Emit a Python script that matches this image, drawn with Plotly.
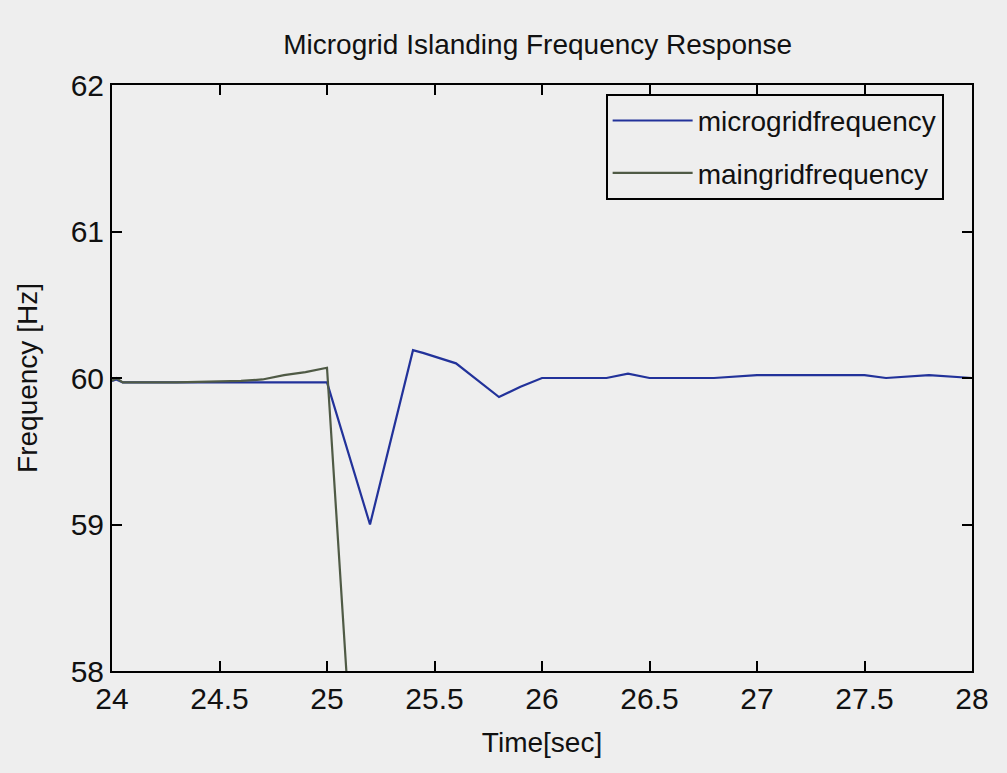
import plotly.graph_objects as go

# Time [sec] and frequency [Hz]
micro_t = [24.0, 24.02, 24.05, 24.3, 24.6, 25.0, 25.2, 25.4, 25.45, 25.6, 25.8, 25.9,
           26.0, 26.3, 26.4, 26.5, 26.8, 27.0, 27.5, 27.6, 27.8, 28.0]
micro_f = [59.98, 59.99, 59.97, 59.97, 59.97, 59.97, 59.0, 60.19, 60.17, 60.1, 59.87, 59.94,
           60.0, 60.0, 60.03, 60.0, 60.0, 60.02, 60.02, 60.0, 60.02, 60.0]

main_t = [24.0, 24.02, 24.05, 24.3, 24.6, 24.7, 24.8, 24.9, 25.0, 25.09, 25.1]
main_f = [59.98, 60.0, 59.97, 59.97, 59.98, 59.99, 60.02, 60.04, 60.07, 58.0, 57.77]

x_ticks = [24, 24.5, 25, 25.5, 26, 26.5, 27, 27.5, 28]
x_labels = ["24", "24.5", "25", "25.5", "26", "26.5", "27", "27.5", "28"]
y_ticks = [58, 59, 60, 61, 62]
y_labels = ["58", "59", "60", "61", "62"]

FONT = "Liberation Sans, Arial, sans-serif"
BG = "#eeeeee"
TXT = "#111111"

fig = go.Figure()
fig.add_trace(go.Scatter(x=micro_t, y=micro_f, mode="lines", name="microgridfrequency",
                         legendgroup="micro",
                         line=dict(color="#22329a", width=2.2)))
fig.add_trace(go.Scatter(x=main_t, y=main_f, mode="lines", name="maingridfrequency",
                         legendgroup="main",
                         line=dict(color="#4f5a45", width=2.2)))

axis_common = dict(showline=True, linecolor="black", linewidth=2, mirror="ticks",
                   ticks="inside", ticklen=10, tickwidth=1.5, tickcolor="black",
                   showgrid=False, zeroline=False,
                   tickfont=dict(family=FONT, size=30, color=TXT))

fig.update_xaxes(range=[24, 28], tickvals=x_ticks, ticktext=x_labels,
                 title=dict(text="Time[sec]", font=dict(family=FONT, size=28, color=TXT),
                            standoff=18),
                 **axis_common)
fig.update_yaxes(range=[58, 62], tickvals=y_ticks, ticktext=y_labels,
                 title=dict(text="Frequency [Hz]", font=dict(family=FONT, size=28, color=TXT),
                            standoff=25),
                 **axis_common)

fig.update_layout(
    width=1007, height=773,
    margin=dict(l=112, r=35, t=85, b=102),
    paper_bgcolor=BG, plot_bgcolor=BG,
    title=dict(text="Microgrid Islanding Frequency Response", x=0.495, xref="paper",
               xanchor="center", y=0.943, yanchor="middle",
               font=dict(family=FONT, size=28, color=TXT)),
    legend=dict(x=0.574, y=0.985, xanchor="left", yanchor="top",
                bgcolor=BG, bordercolor="black", borderwidth=2,
                font=dict(family=FONT, size=28, color=TXT),
                itemwidth=80, tracegroupgap=13),
    showlegend=True,
)

fig.write_html("out.html", post_script="document.body.style.margin='0';",
               config={"displayModeBar": False})
